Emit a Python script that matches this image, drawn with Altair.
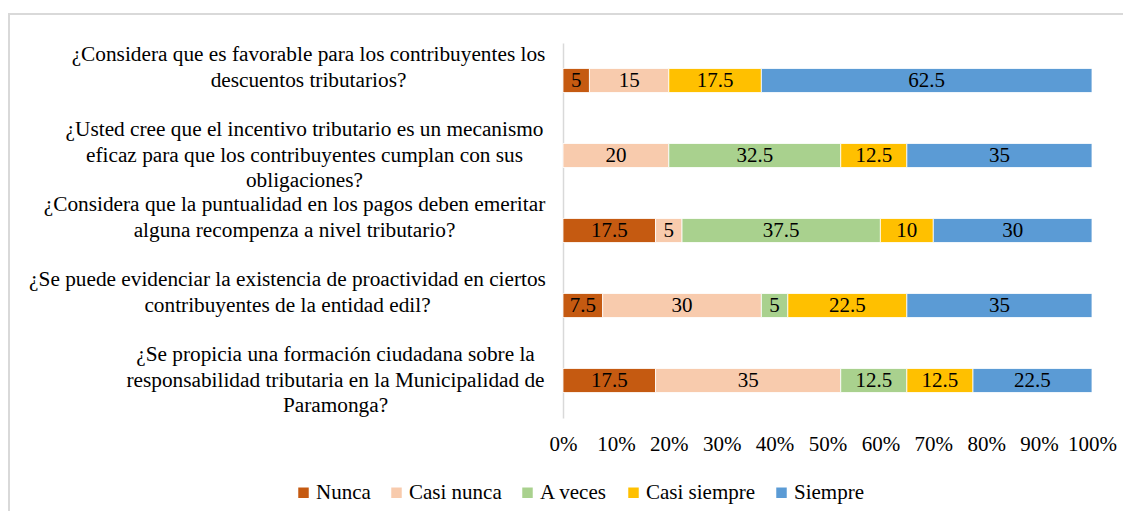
import altair as alt
import pandas as pd

questions = [
    "¿Considera que es favorable para los contribuyentes los|descuentos tributarios?",
    "¿Usted cree que el incentivo tributario es un mecanismo|eficaz para que los contribuyentes cumplan con sus|obligaciones?",
    "¿Considera que la puntualidad en los pagos deben emeritar|alguna recompenza a nivel tributario?",
    "¿Se puede evidenciar la existencia de proactividad en ciertos|contribuyentes de la entidad edil?",
    "¿Se propicia una formación ciudadana sobre la|responsabilidad tributaria en la Municipalidad de|Paramonga?",
]
categories = ["Nunca", "Casi nunca", "A veces", "Casi siempre", "Siempre"]
colors = ["#C55A11", "#F8CBAD", "#A9D18E", "#FFC000", "#5B9BD5"]

nunca = [5, 0, 17.5, 7.5, 17.5]
casi_nunca = [15, 20, 5, 30, 35]
a_veces = [0, 32.5, 37.5, 5, 12.5]
casi_siempre = [17.5, 12.5, 10, 22.5, 12.5]
siempre = [62.5, 35, 30, 35, 22.5]

series = [nunca, casi_nunca, a_veces, casi_siempre, siempre]
rows = []
for ci, (cat, vals) in enumerate(zip(categories, series)):
    for qi, q in enumerate(questions):
        rows.append({"question": q, "category": cat, "order": ci, "value": vals[qi]})
df = pd.DataFrame(rows)

FONT = "Liberation Serif"
FS_Y = 21.3
FS = 21

# label layout (centered lines, block right-aligned like the original)
pads = [255, 259, 269, 276, 228]
pad_cond = {"condition": [{"test": f"datum.value == '{q}'", "value": p} for q, p in zip(questions, pads)], "value": 255}

base = alt.Chart(df).transform_filter("datum.value > 0").transform_stack(
    stack="value", groupby=["question"], as_=["x0", "x1"], sort=[alt.SortField("order", order="ascending")]
)

yenc = alt.Y(
    "question:N",
    sort=questions,
    scale=alt.Scale(paddingInner=0.68, paddingOuter=0.34),
    axis=alt.Axis(
        title=None,
        ticks=False,
        tickSize=0,
        domain=True,
        domainColor="#D9D9D9",
        domainWidth=1.5,
        labelExpr="split(datum.label, '|')",
        labelFont=FONT,
        labelFontSize=FS_Y,
        labelColor="#000000",
        labelAlign="center",
        labelBaseline="middle",
        labelLineHeight=25.5,
        labelPadding=pad_cond,
        labelOffset=-25.5,
        labelLimit=0,
        labelOverlap=False,
        grid=False,
    ),
)

bars = base.mark_bar(stroke="white", strokeWidth=0.8).encode(
    y=yenc,
    x=alt.X(
        "x0:Q",
        scale=alt.Scale(domain=[0, 100], nice=False),
        axis=alt.Axis(
            title=None,
            values=[0, 10, 20, 30, 40, 50, 60, 70, 80, 90, 100],
            labelExpr="datum.value + '%'",
            labelOverlap=False,
            labelFlush=False,
            domain=False,
            ticks=False,
            tickSize=0,
            grid=False,
            labelFont=FONT,
            labelFontSize=FS,
            labelColor="#000000",
            labelPadding=15,
        ),
    ),
    x2="x1:Q",
    color=alt.Color(
        "category:N",
        sort=categories,
        scale=alt.Scale(domain=categories, range=colors),
        legend=alt.Legend(
            title=None,
            orient="none",
            direction="horizontal",
            legendX=-270,
            legendY=439,
            symbolType="square",
            symbolSize=110,
            symbolStrokeWidth=0,
            labelFont=FONT,
            labelFontSize=FS,
            labelColor="#000000",
            labelOffset=2,
            columnPadding=15,
        ),
    ),
)

labels = base.transform_calculate(mid="(datum.x0 + datum.x1) / 2").mark_text(
    font=FONT, fontSize=FS, color="#000000", baseline="middle", align="center"
).encode(
    y=alt.Y("question:N", sort=questions),
    x=alt.X("mid:Q"),
    text=alt.Text("value:Q"),
)

frame_top = alt.Chart(df).mark_rule(color="#D9D9D9", strokeWidth=2, clip=False).encode(
    x=alt.value(-555), x2=alt.value(570), y=alt.value(-29)
)
frame_left = alt.Chart(df).mark_rule(color="#D9D9D9", strokeWidth=2, clip=False).encode(
    x=alt.value(-554), y=alt.value(-30), y2=alt.value(480)
)

chart = alt.layer(frame_top, frame_left, bars, labels).properties(
    width=529,
    height=375,
    autosize=alt.AutoSizeParams(type="none"),
    padding={"left": 555, "top": 35, "right": 31, "bottom": 93},
).configure_view(stroke=None)

chart.save("out.html", embed_options={"renderer": "svg", "actions": False})
